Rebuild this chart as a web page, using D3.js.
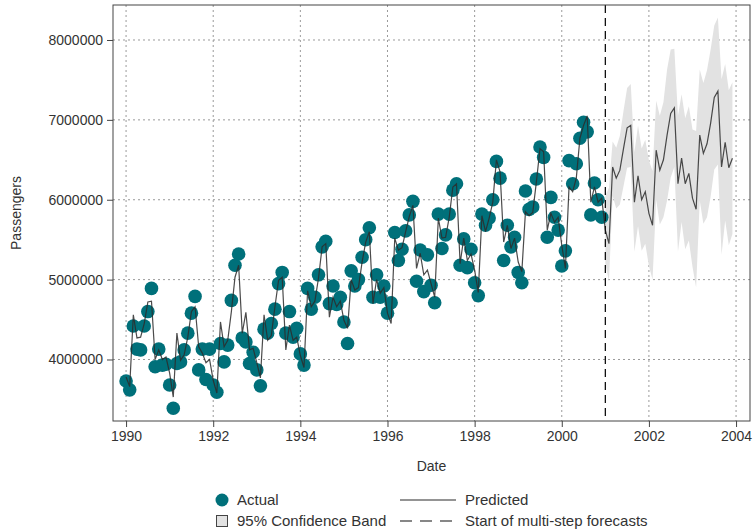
<!DOCTYPE html>
<html>
<head>
<meta charset="utf-8">
<script src="https://cdn.jsdelivr.net/npm/d3@7"></script>
<style>
  html, body { margin: 0; padding: 0; background: #fff; }
  svg { display: block; font-family: "Liberation Sans", Arial, sans-serif; }
</style>
</head>
<body>
<svg id="chart" width="755" height="529"></svg>
<script>
// ---- Data (values in millions of passengers) ----
const startYear = 1990;               // first month = Jan 1990
const forecastStart = 2001;           // start of multi-step forecasts

const actual = [
  3.73, 3.62, 4.42, 4.13, 4.12, 4.42, 4.60, 4.89, 3.91, 4.13, 3.93, 3.94,
  3.68, 3.39, 3.95, 3.97, 4.12, 4.33, 4.58, 4.79, 3.87, 4.13, 3.75, 4.13,
  3.68, 3.59, 4.20, 3.97, 4.18, 4.74, 5.18, 5.32, 4.27, 4.22, 3.95, 4.09,
  3.87, 3.67, 4.38, 4.33, 4.45, 4.63, 4.95, 5.09, 4.33, 4.60, 4.28, 4.39,
  4.07, 3.93, 4.89, 4.63, 4.78, 5.06, 5.41, 5.48, 4.70, 4.92, 4.69, 4.78,
  4.47, 4.20, 5.11, 4.92, 5.00, 5.28, 5.50, 5.65, 4.78, 5.06, 4.78, 4.92,
  4.58, 4.71, 5.59, 5.24, 5.38, 5.61, 5.81, 5.98, 4.98, 5.37, 4.85, 5.31,
  4.93, 4.71, 5.82, 5.39, 5.56, 5.82, 6.12, 6.20, 5.18, 5.51, 5.15, 5.38,
  4.96, 4.80, 5.82, 5.68, 5.77, 6.00, 6.48, 6.27, 5.24, 5.68, 5.41, 5.53,
  5.09, 4.96, 6.11, 5.88, 5.91, 6.26, 6.66, 6.53, 5.53, 6.03, 5.78, 5.62,
  5.17, 5.36, 6.49, 6.20, 6.45, 6.77, 6.97, 6.85, 5.81, 6.21, 6.00, 5.78
];

const predicted = [
  3.78, 3.66, 4.56, 4.27, 4.28, 4.45, 4.72, 4.73, 4.00, 4.12, 4.00, 4.03,
  3.83, 3.53, 4.33, 3.99, 4.06, 4.28, 4.60, 4.66, 4.16, 4.08, 3.96, 4.00,
  3.74, 3.58, 4.47, 4.16, 4.24, 4.60, 5.03, 5.18, 4.33, 4.59, 4.12, 4.14,
  3.96, 3.77, 4.56, 4.24, 4.30, 4.66, 4.99, 5.03, 4.12, 4.43, 4.24, 4.28,
  4.05, 3.90, 4.86, 4.66, 4.73, 5.02, 5.41, 5.45, 4.53, 4.78, 4.66, 4.73,
  4.49, 4.39, 5.00, 4.87, 4.90, 5.22, 5.47, 5.60, 4.70, 5.00, 4.83, 4.90,
  4.58, 4.45, 5.52, 5.37, 5.40, 5.60, 5.79, 5.93, 5.14, 5.33, 5.06, 5.12,
  4.95, 4.78, 5.77, 5.52, 5.53, 5.78, 6.16, 6.20, 5.20, 5.52, 5.24, 5.32,
  5.12, 4.84, 5.80, 5.60, 5.77, 5.97, 6.50, 6.35, 5.47, 5.68, 5.39, 5.52,
  5.22, 5.10, 5.85, 5.80, 5.84, 6.22, 6.64, 6.60, 5.62, 5.83, 5.72, 5.78,
  5.43, 5.14, 6.16, 6.10, 6.27, 6.77, 6.93, 7.05, 5.97, 6.16, 5.97, 6.02,
  5.62, 5.45, 6.41, 6.27, 6.37, 6.64, 6.90, 6.93, 5.97, 6.30, 6.00, 6.10,
  5.83, 5.68, 6.62, 6.37, 6.50, 6.81, 7.08, 7.15, 6.20, 6.52, 6.20, 6.33,
  6.02, 5.88, 6.81, 6.58, 6.70, 6.96, 7.28, 7.36, 6.41, 6.72, 6.40, 6.52
];

// 95% confidence band, Jan 2001 .. Dec 2003
const bandUpper = [
  6.05, 6.15, 6.73, 6.65, 6.80, 7.11, 7.40, 7.45, 6.59, 6.93, 6.64, 6.75,
  6.49, 6.36, 7.24, 7.05, 7.22, 7.63, 7.88, 7.89, 7.05, 7.32, 7.02, 7.17,
  6.88, 6.86, 7.63, 7.46, 7.62, 7.88, 8.18, 8.28, 7.51, 7.70, 7.37, 7.47
];
const bandLower = [
  5.20, 4.98, 6.05, 5.89, 5.94, 6.17, 6.40, 6.41, 5.35, 5.67, 5.36, 5.45,
  5.17, 5.00, 6.00, 5.69, 5.78, 5.99, 6.28, 6.41, 5.35, 5.72, 5.38, 5.49,
  5.16, 4.90, 5.99, 5.70, 5.78, 6.04, 6.38, 6.44, 5.31, 5.74, 5.43, 5.57
];

const xTicks = [1990, 1992, 1994, 1996, 1998, 2000, 2002, 2004];
const yTicks = [4000000, 5000000, 6000000, 7000000, 8000000];

const xTitle = "Date";
const yTitle = "Passengers";
const legendLabels = ["Actual", "Predicted", "95% Confidence Band", "Start of multi-step forecasts"];

// ---- Layout ----
const svg = d3.select("#chart");
const plot = { left: 113, right: 750, top: 5, bottom: 421 };
const textColor = "#333";
const dotColor = "#00707a";
const fontSize = 14;
const legendFont = 15;

const x = d3.scaleLinear().domain([1989.7, 2004.32]).range([plot.left, plot.right]);
const y = d3.scaleLinear().domain([3230000, 8438000]).range([plot.bottom, plot.top]);

const monthT = i => startYear + i / 12;
const bandStartIdx = (forecastStart - startYear) * 12;

// gridlines
const grid = svg.append("g");
grid.selectAll("line.gx").data(xTicks).join("line")
  .attr("x1", d => x(d)).attr("x2", d => x(d))
  .attr("y1", plot.top).attr("y2", plot.bottom)
  .attr("stroke", "#9a9a9a").attr("stroke-width", 1).attr("stroke-dasharray", "2,3");
grid.selectAll("line.gy").data(yTicks).join("line")
  .attr("x1", plot.left).attr("x2", plot.right)
  .attr("y1", d => y(d)).attr("y2", d => y(d))
  .attr("stroke", "#9a9a9a").attr("stroke-width", 1).attr("stroke-dasharray", "2,3");

// confidence band
const bandData = bandUpper.map((u, k) => ({ t: monthT(bandStartIdx + k), u: u * 1e6, l: bandLower[k] * 1e6 }));
svg.append("path")
  .datum(bandData)
  .attr("fill", "#e2e2e2")
  .attr("d", d3.area().x(d => x(d.t)).y0(d => y(d.l)).y1(d => y(d.u)));

// dots
svg.append("g").selectAll("circle").data(actual).join("circle")
  .attr("cx", (d, i) => x(monthT(i)))
  .attr("cy", d => y(d * 1e6))
  .attr("r", 6.8)
  .attr("fill", dotColor);

// predicted line
svg.append("path")
  .datum(predicted)
  .attr("fill", "none")
  .attr("stroke", "#2b2b2b")
  .attr("stroke-opacity", 0.85)
  .attr("stroke-width", 1.2)
  .attr("d", d3.line().x((d, i) => x(monthT(i))).y(d => y(d * 1e6)));

// forecast start line
svg.append("line")
  .attr("x1", x(forecastStart)).attr("x2", x(forecastStart))
  .attr("y1", plot.top).attr("y2", plot.bottom)
  .attr("stroke", "#111").attr("stroke-width", 1.3).attr("stroke-dasharray", "8,5");

// frame
svg.append("rect")
  .attr("x", plot.left).attr("y", plot.top)
  .attr("width", plot.right - plot.left).attr("height", plot.bottom - plot.top)
  .attr("fill", "none").attr("stroke", "#444").attr("stroke-width", 1);

// axes
const xAxis = d3.axisBottom(x).tickValues(xTicks).tickFormat(d3.format("d")).tickSize(6).tickPadding(4);
const gx = svg.append("g").attr("transform", `translate(0,${plot.bottom})`).call(xAxis);
gx.select(".domain").remove();
gx.selectAll("line").attr("stroke", "#444");
gx.selectAll("text").attr("fill", textColor).style("font-size", fontSize + "px").style("font-family", "Liberation Sans, Arial, sans-serif");

const yAxis = d3.axisLeft(y).tickValues(yTicks).tickFormat(d3.format("d")).tickSize(6).tickPadding(4);
const gy = svg.append("g").attr("transform", `translate(${plot.left},0)`).call(yAxis);
gy.select(".domain").remove();
gy.selectAll("line").attr("stroke", "#444");
gy.selectAll("text").attr("fill", textColor).style("font-size", fontSize + "px").style("font-family", "Liberation Sans, Arial, sans-serif");

// titles
svg.append("text")
  .attr("x", (plot.left + plot.right) / 2).attr("y", 471)
  .attr("text-anchor", "middle").attr("fill", textColor)
  .style("font-size", fontSize + "px").text(xTitle);
svg.append("text")
  .attr("transform", `translate(21,${(plot.top + plot.bottom) / 2}) rotate(-90)`)
  .attr("text-anchor", "middle").attr("fill", textColor)
  .style("font-size", fontSize + "px").text(yTitle);

// legend
const lg = svg.append("g");
const row1 = 500, row2 = 521;
lg.append("circle").attr("cx", 222).attr("cy", row1).attr("r", 6.5).attr("fill", dotColor);
lg.append("text").attr("x", 237).attr("y", row1 + 5).attr("fill", textColor).style("font-size", legendFont + "px").text(legendLabels[0]);
lg.append("rect").attr("x", 216.5).attr("y", row2 - 5.5).attr("width", 11).attr("height", 11)
  .attr("fill", "#e2e2e2").attr("stroke", "#444").attr("stroke-width", 1);
lg.append("text").attr("x", 237).attr("y", row2 + 5).attr("fill", textColor).style("font-size", legendFont + "px").text(legendLabels[2]);
lg.append("line").attr("x1", 400).attr("x2", 456).attr("y1", row1).attr("y2", row1)
  .attr("stroke", "#2b2b2b").attr("stroke-width", 1.2);
lg.append("text").attr("x", 465).attr("y", row1 + 5).attr("fill", textColor).style("font-size", legendFont + "px").text(legendLabels[1]);
lg.append("line").attr("x1", 400).attr("x2", 456).attr("y1", row2).attr("y2", row2)
  .attr("stroke", "#111").attr("stroke-width", 1.2).attr("stroke-dasharray", "12,8");
lg.append("text").attr("x", 465).attr("y", row2 + 5).attr("fill", textColor).style("font-size", legendFont + "px").text(legendLabels[3]);
</script>
</body>
</html>
